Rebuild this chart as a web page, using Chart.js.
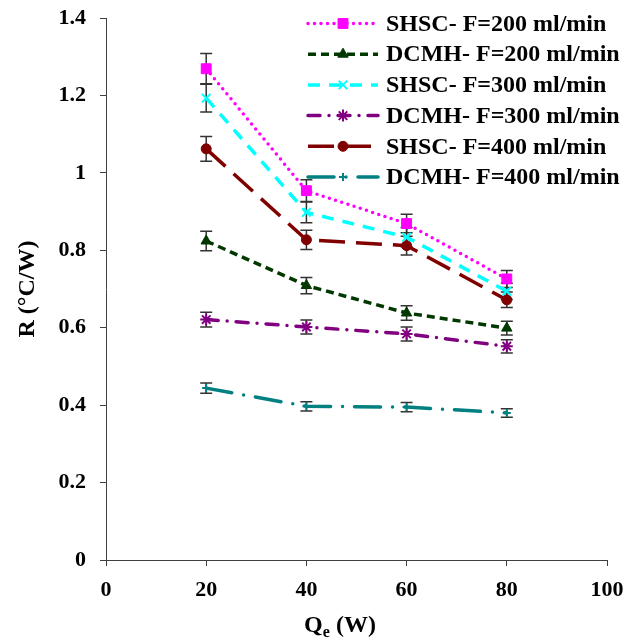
<!DOCTYPE html>
<html>
<head>
<meta charset="utf-8">
<script src="https://cdn.jsdelivr.net/npm/chart.js@4"></script>
<style>
  html, body { margin: 0; padding: 0; background: #fff; }
  canvas { display: block; }
</style>
</head>
<body>
<canvas id="chart" width="627" height="641"></canvas>
<script>
// heat input Qe (W)
const heatInput = [20, 40, 60, 80];

const seriesLabels = [
    'SHSC- F=200 ml/min',
    'DCMH- F=200 ml/min',
    'SHSC- F=300 ml/min',
    'DCMH- F=300 ml/min',
    'SHSC- F=400 ml/min',
    'DCMH- F=400 ml/min'
];

// thermal resistance R (°C/W)
const shsc200 = [1.269, 0.954, 0.869, 0.726];
const dcmh200 = [0.824, 0.709, 0.638, 0.599];
const shsc300 = [1.193, 0.898, 0.834, 0.694];
const dcmh300 = [0.621, 0.602, 0.584, 0.552];
const shsc400 = [1.062, 0.827, 0.812, 0.672];
const dcmh400 = [0.444, 0.397, 0.395, 0.380];

// error bar half heights
const shsc200Err = [0.039, 0.028, 0.024, 0.022];
const dcmh200Err = [0.025, 0.021, 0.019, 0.018];
const shsc300Err = [0.036, 0.027, 0.025, 0.021];
const dcmh300Err = [0.019, 0.018, 0.018, 0.017];
const shsc400Err = [0.032, 0.025, 0.024, 0.020];
const dcmh400Err = [0.013, 0.012, 0.012, 0.011];

const seriesValues = [shsc200, dcmh200, shsc300, dcmh300, shsc400, dcmh400];
const seriesErrors = [shsc200Err, dcmh200Err, shsc300Err, dcmh300Err, shsc400Err, dcmh400Err];

const serif = "'Liberation Serif', 'Times New Roman', serif";

const styles = [
    { color: '#FF00FF', dash: [0, 6.5], cap: 'round', point: 'rect', radius: 7, pw: 1 },
    { color: '#003800', dash: [8, 5], cap: 'butt', point: 'triangle', radius: 6, pw: 1 },
    { color: '#00FFFF', dash: [12, 9], cap: 'butt', point: 'crossRot', radius: 6, pw: 2 },
    { color: '#800080', dash: [12, 9, 0, 9], cap: 'round', point: 'star', radius: 6, pw: 2 },
    { color: '#800000', dash: [26, 11], cap: 'butt', point: 'circle', radius: 5, pw: 1 },
    { color: '#008080', dash: [26, 12, 0, 12], cap: 'round', point: 'cross', radius: 4, pw: 2 }
];

const datasets = seriesLabels.map((label, i) => ({
    label: label,
    data: heatInput.map((q, j) => ({ x: q, y: seriesValues[i][j] })),
    borderColor: styles[i].color,
    backgroundColor: styles[i].color,
    borderWidth: 3.5,
    borderDash: styles[i].dash,
    borderCapStyle: styles[i].cap,
    tension: 0,
    pointStyle: styles[i].point,
    pointRadius: styles[i].radius,
    pointBorderWidth: styles[i].pw,
    pointBorderColor: styles[i].color,
    pointBackgroundColor: styles[i].color
}));

// vertical error bars with caps
const errorBars = {
    id: 'errorBars',
    beforeDatasetsDraw(chart) {
        const ctx = chart.ctx;
        const yScale = chart.scales.y;
        ctx.save();
        ctx.strokeStyle = '#333';
        ctx.lineWidth = 1.5;
        chart.data.datasets.forEach((ds, i) => {
            const meta = chart.getDatasetMeta(i);
            meta.data.forEach((pt, j) => {
                const v = seriesValues[i][j];
                const e = seriesErrors[i][j];
                const top = yScale.getPixelForValue(v + e);
                const bot = yScale.getPixelForValue(v - e);
                ctx.beginPath();
                ctx.moveTo(pt.x, top);
                ctx.lineTo(pt.x, bot);
                ctx.moveTo(pt.x - 6, top);
                ctx.lineTo(pt.x + 6, top);
                ctx.moveTo(pt.x - 6, bot);
                ctx.lineTo(pt.x + 6, bot);
                ctx.stroke();
            });
        });
        ctx.restore();
    }
};

// legend in the top right corner, line sample + marker + label
const cornerLegend = {
    id: 'cornerLegend',
    afterDraw(chart) {
        const ctx = chart.ctx;
        const drawPoint = Chart.helpers && Chart.helpers.drawPoint;
        ctx.save();
        chart.data.datasets.forEach((ds, i) => {
            const y = 23.5 + i * 30.7;
            ctx.strokeStyle = ds.borderColor;
            ctx.lineWidth = ds.borderWidth;
            ctx.lineCap = ds.borderCapStyle;
            ctx.setLineDash(ds.borderDash);
            ctx.beginPath();
            ctx.moveTo(308, y);
            ctx.lineTo(378, y);
            ctx.stroke();
            ctx.setLineDash([]);
            ctx.lineCap = 'butt';
            if (drawPoint) {
                ctx.fillStyle = ds.pointBackgroundColor;
                ctx.strokeStyle = ds.pointBorderColor;
                ctx.lineWidth = ds.pointBorderWidth;
                drawPoint(ctx, {
                    pointStyle: ds.pointStyle,
                    rotation: 0,
                    radius: ds.pointRadius,
                    borderWidth: ds.pointBorderWidth
                }, 343, y);
            }
            ctx.fillStyle = '#000';
            ctx.font = 'bold 24px ' + serif;
            ctx.textAlign = 'left';
            ctx.textBaseline = 'middle';
            ctx.fillText(ds.label, 386, y + 1);
        });
        ctx.restore();
    }
};

// x axis title with subscript e
const xTitle = {
    id: 'xTitle',
    afterDraw(chart) {
        const ctx = chart.ctx;
        ctx.save();
        ctx.fillStyle = '#000';
        ctx.textBaseline = 'alphabetic';
        ctx.textAlign = 'left';
        const big = 'bold 24px ' + serif;
        const small = 'bold 16px ' + serif;
        ctx.font = big;
        const wQ = ctx.measureText('Q').width;
        const wRest = ctx.measureText(' (W)').width;
        ctx.font = small;
        const wE = ctx.measureText('e').width;
        const total = wQ + wE + wRest;
        let x = 340 - total / 2;
        const base = 632;
        ctx.font = big;
        ctx.fillText('Q', x, base);
        x += wQ;
        ctx.font = small;
        ctx.fillText('e', x, base + 5);
        x += wE;
        ctx.font = big;
        ctx.fillText(' (W)', x, base);
        ctx.restore();
    }
};

const config = {
    type: 'line',
    data: { datasets: datasets },
    options: {
        responsive: false,
        animation: false,
        devicePixelRatio: 1,
        layout: { padding: { left: 0, right: 20, top: 18, bottom: 0 } },
        plugins: {
            legend: { display: false },
            tooltip: { enabled: false }
        },
        scales: {
            x: {
                type: 'linear',
                min: 0,
                max: 100,
                ticks: {
                    stepSize: 20,
                    color: '#000',
                    padding: 11,
                    maxRotation: 0,
                    font: { family: serif, size: 22, weight: 'bold' }
                },
                grid: {
                    drawOnChartArea: false,
                    drawTicks: true,
                    tickLength: 6,
                    tickColor: '#404040',
                    tickWidth: 1
                },
                border: { display: true, color: '#404040', width: 1 },
                title: { display: false },
                afterFit(scale) {
                    scale.height = 81;
                    scale.paddingLeft = 0;
                    scale.paddingRight = 0;
                }
            },
            y: {
                min: 0,
                max: 1.4,
                ticks: {
                    stepSize: 0.2,
                    color: '#000',
                    padding: 14,
                    font: { family: serif, size: 22, weight: 'bold' },
                    callback: value => String(Number(value.toFixed(1)))
                },
                grid: {
                    drawOnChartArea: false,
                    drawTicks: true,
                    tickLength: 6,
                    tickColor: '#404040',
                    tickWidth: 1
                },
                border: { display: true, color: '#404040', width: 1 },
                title: {
                    display: true,
                    text: 'R (°C/W)',
                    color: '#000',
                    padding: { top: 13, bottom: 0 },
                    font: { family: serif, size: 24, weight: 'bold' }
                },
                afterFit(scale) {
                    scale.width = 106;
                    scale.paddingTop = 0;
                    scale.paddingBottom = 0;
                }
            }
        }
    },
    plugins: [errorBars, cornerLegend, xTitle]
};

const rChart = new Chart(document.getElementById('chart'), config);
</script>
</body>
</html>
